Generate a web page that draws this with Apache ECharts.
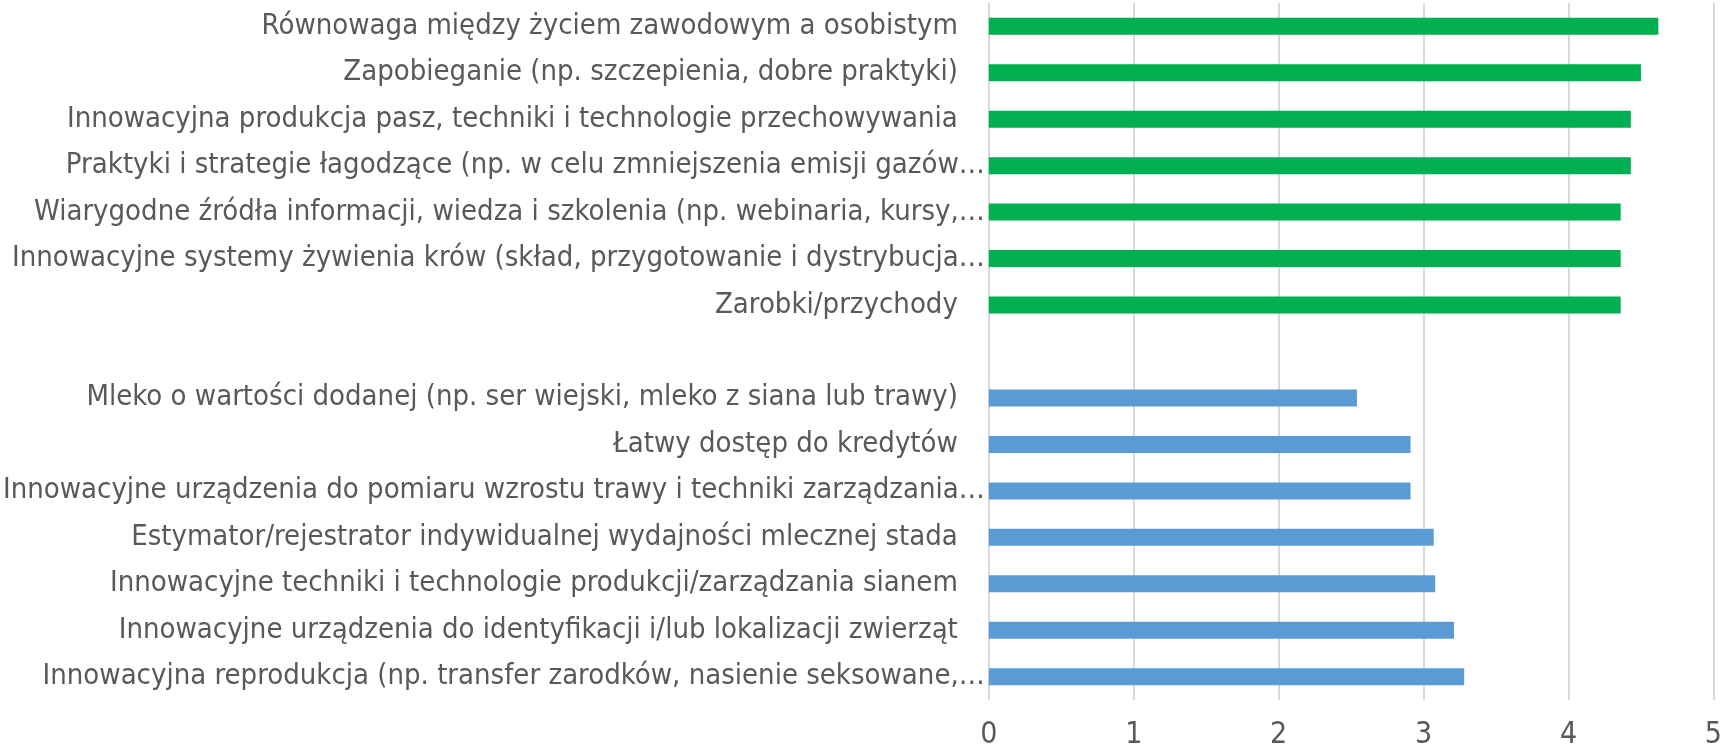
<!DOCTYPE html>
<html lang="pl">
<head>
  <meta charset="UTF-8" />
  <title>Innowacje</title>
  <script src="https://cdn.jsdelivr.net/npm/echarts@6.0.0/dist/echarts.min.js"></script>
  <style>
    html, body { margin: 0; padding: 0; background: #fff; }
  </style>
</head>
<body>
  <div id="main" style="width: 1725px; height: 755px;"></div>
  <script type="text/javascript">
    // kategorie od góry do dołu (pusta pozycja = odstęp między grupami)
    var categories = [
      'Równowaga między życiem zawodowym a osobistym',
      'Zapobieganie (np. szczepienia, dobre praktyki)',
      'Innowacyjna produkcja pasz, techniki i technologie przechowywania',
      'Praktyki i strategie łagodzące (np. w celu zmniejszenia emisji gazów…',
      'Wiarygodne źródła informacji, wiedza i szkolenia (np. webinaria, kursy,…',
      'Innowacyjne systemy żywienia krów (skład, przygotowanie i dystrybucja…',
      'Zarobki/przychody',
      '',
      'Mleko o wartości dodanej (np. ser wiejski, mleko z siana lub trawy)',
      'Łatwy dostęp do kredytów',
      'Innowacyjne urządzenia do pomiaru wzrostu trawy i techniki zarządzania…',
      'Estymator/rejestrator indywidualnej wydajności mlecznej stada',
      'Innowacyjne techniki i technologie produkcji/zarządzania sianem',
      'Innowacyjne urządzenia do identyfikacji i/lub lokalizacji zwierząt',
      'Innowacyjna reprodukcja (np. transfer zarodków, nasienie seksowane,…'
    ];
    var greenValues = [4.62, 4.50, 4.43, 4.43, 4.36, 4.36, 4.36];
    var blueValues = [2.54, 2.91, 2.91, 3.07, 3.08, 3.21, 3.28];
    var xTicks = [0, 1, 2, 3, 4, 5];

    var greenColor = '#00B050';
    var blueColor = '#5B9BD5';
    var textColor = '#595959';
    var font = '"Liberation Sans Narrow", "DejaVu Sans Condensed", "Liberation Sans", sans-serif';

    // wartości jednej serii w układzie 15 kategorii
    var seriesData = [];
    greenValues.forEach(function (v) {
      seriesData.push({ value: v, itemStyle: { color: greenColor } });
    });
    seriesData.push(null);
    blueValues.forEach(function (v) {
      seriesData.push({ value: v, itemStyle: { color: blueColor } });
    });

    var myChart = echarts.init(document.getElementById('main'));
    myChart.setOption({
      animation: false,
      grid: { left: 986, right: 9, top: 3, bottom: 55, containLabel: false },
      xAxis: {
        type: 'value',
        min: xTicks[0],
        max: xTicks[xTicks.length - 1],
        interval: 1,
        axisLine: { show: false },
        axisTick: { show: false },
        splitLine: { show: true, lineStyle: { color: '#D9D9D9', width: 2 } },
        axisLabel: {
          color: textColor,
          fontSize: 30,
          fontFamily: font,
          margin: 20
        }
      },
      yAxis: {
        type: 'category',
        inverse: true,
        data: categories,
        axisLine: { show: false },
        axisTick: { show: false },
        axisLabel: {
          color: textColor,
          fontSize: 29,
          fontFamily: font,
          margin: 4,
          formatter: function (value) {
            if (value.slice(-1) === '…') return value;
            return '{p|' + value + '}';
          },
          rich: {
            p: { color: textColor, fontSize: 29, fontFamily: font, padding: [0, 27, 0, 0] }
          }
        }
      },
      series: [{
        type: 'bar',
        data: seriesData,
        barWidth: 17
      }]
    });
  </script>
</body>
</html>
